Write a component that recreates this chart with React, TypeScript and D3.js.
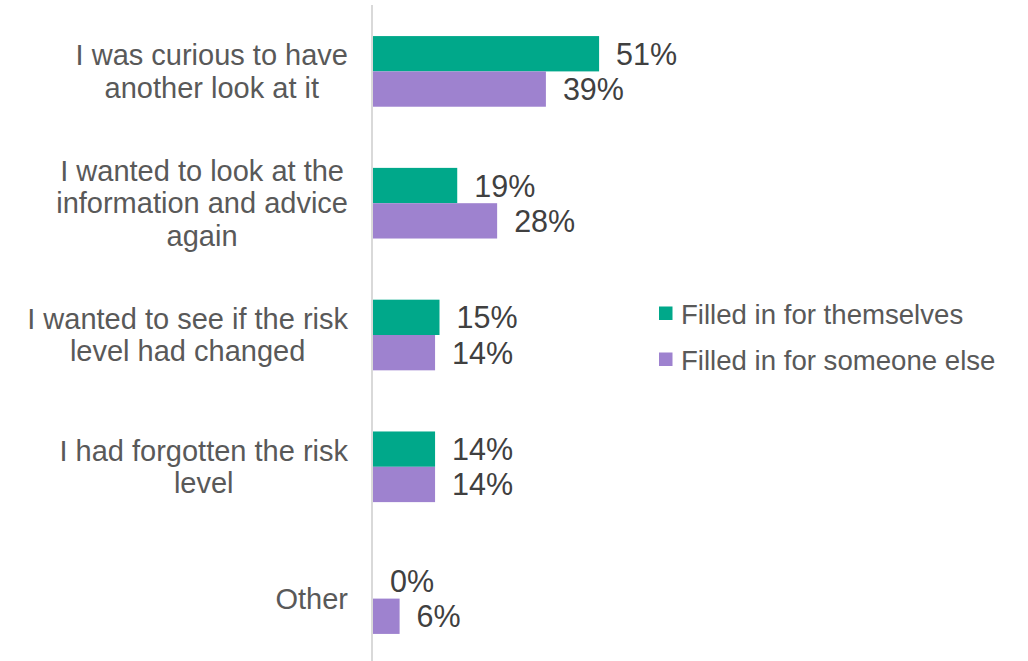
import React, { useEffect, useRef } from "react";
import * as d3 from "d3";

const categories: string[][] = [
  ["I was curious to have", "another look at it"],
  ["I wanted to look at the", "information and advice", "again"],
  ["I wanted to see if the risk", "level had changed"],
  ["I had forgotten the risk", "level"],
  ["Other"],
];
const seriesNames = ["Filled in for themselves", "Filled in for someone else"];
const themselves = [51, 19, 15, 14, 0];
const someoneElse = [39, 28, 14, 14, 6];
const colors = ["#00A88A", "#9E82CF"];

const W = 1028;
const H = 661;
const FONT = "'Liberation Sans', Arial, Helvetica, sans-serif";

export default function App() {
  const ref = useRef<SVGSVGElement | null>(null);

  useEffect(() => {
    const svg = d3.select(ref.current);
    svg.selectAll("*").remove();

    const ids = categories.map((_, i) => String(i));
    const y = d3.scaleBand<string>().domain(ids).range([5.5, 664.5]).paddingInner(0.464).paddingOuter(0.232);
    const x = d3.scaleLinear().domain([0, 60]).range([373, 639]);
    const sub = d3.scaleBand<number>().domain([0, 1]).range([0, y.bandwidth()]);
    const series = [themselves, someoneElse];

    // bars
    series.forEach((vals, s) => {
      svg
        .append("g")
        .selectAll("rect")
        .data(vals)
        .join("rect")
        .attr("x", x(0))
        .attr("y", (_, i) => (y(String(i)) as number) + (sub(s) as number))
        .attr("width", (d) => x(d) - x(0))
        .attr("height", sub.bandwidth())
        .attr("fill", colors[s]);
    });

    // value labels
    series.forEach((vals, s) => {
      svg
        .append("g")
        .selectAll("text")
        .data(vals)
        .join("text")
        .attr("x", (d) => x(d) + 17)
        .attr("y", (_, i) => (y(String(i)) as number) + (sub(s) as number) + sub.bandwidth() / 2 + 11)
        .attr("font-family", FONT)
        .attr("font-size", 30.5)
        .attr("fill", "#404040")
        .text((d) => `${d}%`);
    });

    // axis line
    svg
      .append("line")
      .attr("x1", x(0) - 1)
      .attr("x2", x(0) - 1)
      .attr("y1", 5)
      .attr("y2", H)
      .attr("stroke", "#d9d9d9")
      .attr("stroke-width", 2);

    // category labels (lines centred on one another, block right-aligned)
    const right = 348;
    const lh = 32.4;
    categories.forEach((lines, i) => {
      const cy = (y(String(i)) as number) + y.bandwidth() / 2;
      const g = svg.append("g");
      const texts = g
        .selectAll("text")
        .data(lines)
        .join("text")
        .attr("font-family", FONT)
        .attr("font-size", 29)
        .attr("fill", "#595959")
        .attr("text-anchor", "middle")
        .attr("y", (_, k) => cy + (k - (lines.length - 1) / 2) * lh + 10)
        .text((d) => d);
      let maxW = 0;
      texts.each(function () {
        maxW = Math.max(maxW, (this as SVGTextElement).getComputedTextLength());
      });
      texts.attr("x", right - maxW / 2);
    });

    // legend
    const lg = svg.append("g");
    seriesNames.forEach((name, s) => {
      const cy = 313 + s * 46;
      lg.append("rect").attr("x", 659).attr("y", cy - 6.5).attr("width", 13.5).attr("height", 13.5).attr("fill", colors[s]);
      lg.append("text")
        .attr("x", 681)
        .attr("y", cy + 11)
        .attr("font-family", FONT)
        .attr("font-size", 27.6)
        .attr("fill", "#595959")
        .text(name);
    });
  }, []);

  return (
    <svg
      ref={ref}
      width={W}
      height={H}
      style={{ position: "absolute", left: 0, top: 0, background: "#fff" }}
    />
  );
}
